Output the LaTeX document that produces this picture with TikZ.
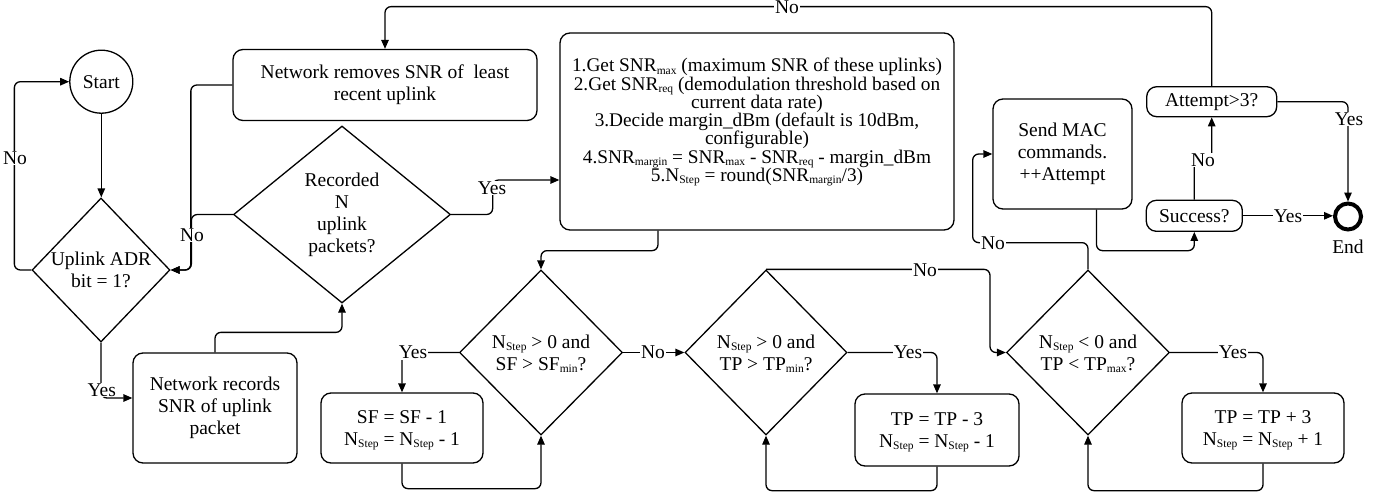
\documentclass[tikz,border=0pt]{standalone}
\usepackage{fontspec}
\setmainfont{Liberation Serif}
\usetikzlibrary{arrows.meta,shapes.geometric}
\newcommand\sbs[1]{\smash{\raisebox{-2.5pt}{\fontsize{11.5}{11.5}\selectfont #1}}}
\begin{document}
\begin{tikzpicture}[x=1pt,y=-1pt,
  txt/.style={font=\fontsize{19.5}{22}\selectfont, align=center},
  box/.style={draw, rounded corners=10pt, line width=1.3pt, inner sep=0pt, txt},
  dia/.style={draw, diamond, line width=1.3pt, inner sep=0pt},
  ln/.style={line width=1.3pt, rounded corners=6pt},
  arr/.style={ln, -{Triangle[length=9pt,width=7.5pt]}},
  lab/.style={txt, fill=white, inner sep=1pt},
  dtext/.style={label={[txt]center:#1}}
]
\fill[white] (0,0) rectangle (1390,495);
\useasboundingbox (0,0) rectangle (1390,495);

% nodes
\node[draw, circle, line width=1.3pt, minimum size=63pt, inner sep=0pt, txt] (start) at (101.3,81.7) {Start};
\node[dia, minimum width=138pt, minimum height=144pt, dtext={Uplink ADR\\bit = 1?}] (adr) at (101,270) {};
\node[box, minimum width=164pt, minimum height=110pt] (rec) at (215,408) {Network records\\SNR of uplink\\packet};
\node[dia, minimum width=217pt, minimum height=177pt, dtext={Recorded\\N\\uplink\\packets?}] (recd) at (342,214.5) {};
\node[box, minimum width=304pt, minimum height=71pt] (rem) at (385,85) {Network removes SNR of~ least\\recent uplink};
\node[box, minimum width=394pt, minimum height=197pt] (calc) at (757,131.5) {};
\node[txt, font=\fontsize{19.3}{18.25}\selectfont, text width=392pt, align=flush center, inner sep=0pt, anchor=north] (calct) at (757,58.1) {1.Get SNR\sbs{max} (maximum SNR of these uplinks)\\
2.Get SNR\sbs{req} (demodulation threshold based on\\
current data rate)\\
3.Decide margin\_dBm (default is 10dBm,\\
configurable)\\
4.SNR\sbs{margin} = SNR\sbs{max} - SNR\sbs{req} - margin\_dBm\\
5.N\sbs{Step} = round(SNR\sbs{margin}/3)};
\node[dia, minimum width=163pt, minimum height=165pt, dtext={N\sbs{Step} > 0 and\\SF > SF\sbs{min}?}] (sf) at (541,352.5) {};
\node[box, minimum width=162pt, minimum height=70pt] (sfb) at (402,428) {SF = SF - 1\\N\sbs{Step} = N\sbs{Step} - 1};
\node[dia, minimum width=162pt, minimum height=165pt, dtext={N\sbs{Step} > 0 and\\TP > TP\sbs{min}?}] (tp) at (766,352.5) {};
\node[box, minimum width=164pt, minimum height=72pt] (tpb) at (937,430) {TP = TP - 3\\N\sbs{Step} = N\sbs{Step} - 1};
\node[dia, minimum width=163pt, minimum height=165pt, dtext={N\sbs{Step} < 0 and\\TP < TP\sbs{max}?}] (tpm) at (1088,352.5) {};
\node[box, minimum width=162pt, minimum height=70pt] (tpmb) at (1263,428) {TP = TP + 3\\N\sbs{Step} = N\sbs{Step} + 1};
\node[box, minimum width=139pt, minimum height=110pt] (mac) at (1062.5,154) {Send MAC\\commands.\\++Attempt};
\node[box, minimum width=96pt, minimum height=31pt] (succ) at (1194.3,215.8) {Success?};
\node[box, minimum width=130pt, minimum height=30pt] (att) at (1211.7,101.7) {Attempt>3?};
\node[draw, circle, line width=4pt, minimum size=26pt, inner sep=0pt] (endc) at (1348,216.5) {};
\node[txt, inner sep=0pt] (endt) at (1348,246.7) {End};

% connectors
\draw[arr] (start.south) -- (start.south |- adr.north);
\draw[arr] (adr.west) -- ++(-17,0) |- (start.west);
\draw[arr] (adr.south) |- ([yshift=10pt]rec.west);
\draw[arr] (rec.north) -- ++(0,-20) -| (recd.south);
\draw[arr] (recd.west) -- ++(-41.5,0) |- (adr.east);
\draw[arr] (rem.west) -- ++(-41.5,0) |- (adr.east);
\draw[arr] (recd.east) -- ++(41.5,0) |- ([yshift=-48.5pt]calc.west);
\draw[arr] ([xshift=-99pt]calc.south) -- ++(0,20) -| (sf.north);
\draw[arr] (sf.west) -| (sfb.north);
\draw[arr] (sfb.south) -- ++(0,25) -| (sf.south);
\draw[arr] (sf.east) -- (tp.west);
\draw[arr] (tp.east) -| (tpb.north);
\draw[arr] (tpb.south) -- ++(0,24) -| (tp.south);
\draw[arr] (tp.north) -- ++(224,0) |- (tpm.west);
\draw[arr] (tpm.east) -| (tpmb.north);
\draw[arr] (tpmb.south) -- ++(0,27) -| (tpm.south);
\draw[arr] (tpm.north) -- ++(0,-26.7) -- ++(-115.3,0) |- (mac.west);
\draw[arr] ([xshift=34pt]mac.south) -- ++(0,41) -| (succ.south);
\draw[arr] (succ.east) -- (succ.east -| endc.west);
\draw[arr] (succ.north) -- ++(0,-40) -| (att.south);
\draw[arr] (att.east) -| (endc.north);
\draw[arr] (att.north) -- ++(0,-79.4) -| (rem.north);

% labels
\node[lab] (l1) at (15,158) {No};
\node[lab] (l2) at (101.7,390) {Yes};
\node[lab] (l3) at (192,235) {No};
\node[lab] (l4) at (492,188) {Yes};
\node[lab] (l5) at (413,352.5) {Yes};
\node[lab] (l6) at (653,352.5) {No};
\node[lab] (l7) at (908,352.5) {Yes};
\node[lab] (l8) at (925,270) {No};
\node[lab] (l9) at (1233,352.5) {Yes};
\node[lab] (l10) at (993,243.3) {No};
\node[lab] (l11) at (1288,215.8) {Yes};
\node[lab] (l12) at (1203,160) {No};
\node[lab] (l13) at (1349,119) {Yes};
\node[lab] (l14) at (787,7.5) {No};
\end{tikzpicture}
\end{document}
